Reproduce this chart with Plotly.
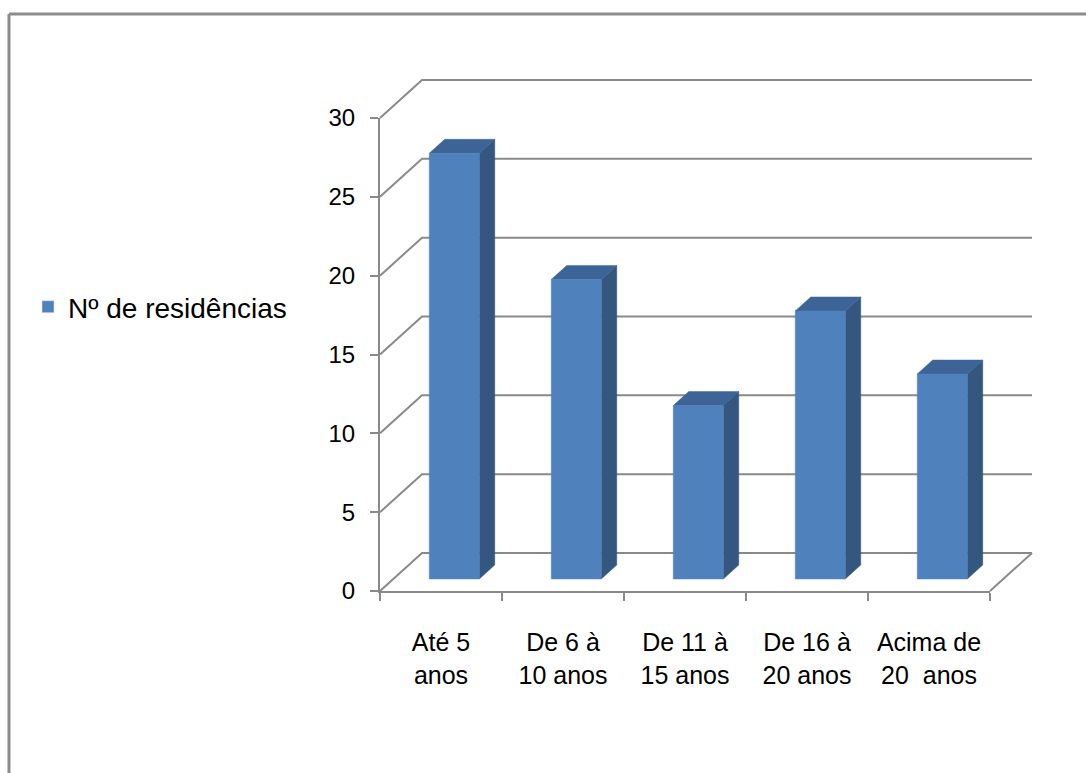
import plotly.graph_objects as go

# ---- data ----
categories = ["Até 5<br>anos", "De 6 à<br>10 anos", "De 11 à<br>15 anos",
              "De 16 à<br>20 anos", "Acima de<br>20  anos"]
values = [27, 19, 11, 17, 13]
series_name = "Nº de residências"
y_ticks = [0, 5, 10, 15, 20, 25, 30]

# ---- style / geometry ----
W, H = 1086, 773
FONT = "Liberation Sans, Arial, sans-serif"
GRID = "#8a8a8a"
C_FRONT, C_SIDE, C_TOP = "#4F81BD", "#34567F", "#3C6496"

# front plane in pixels
px_x0, px_x1 = 380, 990
px_y0, px_ytop = 591, 118
ymax = 30
n = len(categories)
ux = (px_x1 - px_x0) / n
uy = (px_y0 - px_ytop) / ymax
# depth offset (pixels) -> data units
dx = 42 / ux
dy = 38 / uy
f1, f2 = 0.316, 0.684   # bar front/back depth fractions
hw = 0.205              # half bar width (category units)

fig = go.Figure()

# --- walls / gridlines (full-figure drawing axes x2/y2, same scale) ---
gx, gy = [], []
for v in y_ticks:
    gx += [-0.5, -0.5 + dx, n - 0.5 + dx, None]
    gy += [v, v + dy, v + dy, None]
gx += [n - 0.5, n - 0.5 + dx, None]
gy += [0, dy, None]
fig.add_trace(go.Scatter(x=gx, y=gy, mode="lines", xaxis="x2", yaxis="y2",
                         line=dict(color=GRID, width=2), hoverinfo="skip",
                         showlegend=False))

# --- 3D bars ---
for i, v in enumerate(values):
    xl, xr = i - hw, i + hw
    # side face
    fig.add_trace(go.Scatter(
        x=[xr + f1 * dx, xr + f2 * dx, xr + f2 * dx, xr + f1 * dx, xr + f1 * dx],
        y=[f1 * dy, f2 * dy, v + f2 * dy, v + f1 * dy, f1 * dy],
        fill="toself", fillcolor=C_SIDE, mode="lines", line=dict(width=0.5, color=C_SIDE),
        xaxis="x2", yaxis="y2", hoverinfo="skip", showlegend=False))
    # top face
    fig.add_trace(go.Scatter(
        x=[xl + f1 * dx, xr + f1 * dx, xr + f2 * dx, xl + f2 * dx, xl + f1 * dx],
        y=[v + f1 * dy, v + f1 * dy, v + f2 * dy, v + f2 * dy, v + f1 * dy],
        fill="toself", fillcolor=C_TOP, mode="lines", line=dict(width=0.5, color=C_TOP),
        xaxis="x2", yaxis="y2", hoverinfo="skip", showlegend=False))
    # front face
    fig.add_trace(go.Scatter(
        x=[xl + f1 * dx, xr + f1 * dx, xr + f1 * dx, xl + f1 * dx, xl + f1 * dx],
        y=[f1 * dy, f1 * dy, v + f1 * dy, v + f1 * dy, f1 * dy],
        fill="toself", fillcolor=C_FRONT, mode="lines", line=dict(width=0.5, color=C_FRONT),
        xaxis="x2", yaxis="y2", hoverinfo="skip", showlegend=False))

# --- invisible trace to set up category axis; legend entry ---
fig.add_trace(go.Scatter(x=categories, y=values, mode="markers",
                         marker=dict(opacity=0), hoverinfo="skip", showlegend=False))
fig.add_trace(go.Bar(x=[categories[0]], y=[None], name=series_name,
                     marker=dict(color=C_FRONT), showlegend=True))

dom_x = [px_x0 / W, px_x1 / W]
dom_y = [1 - px_y0 / H, 1 - px_ytop / H]
x2_range = [-0.5 - px_x0 / ux, n - 0.5 + (W - px_x1) / ux]
y2_range = [-(H - px_y0) / uy, ymax + px_ytop / uy]

fig.update_layout(
    width=W, height=H, autosize=False,
    margin=dict(l=0, r=0, t=0, b=0, pad=0, autoexpand=False),
    paper_bgcolor="white", plot_bgcolor="rgba(0,0,0,0)",
    font=dict(family=FONT, size=24, color="black"),
    xaxis=dict(domain=dom_x, type="category", categoryarray=categories,
               range=[-0.5, n - 0.5], tickson="boundaries", ticks="outside",
               ticklen=8, tickwidth=2, tickcolor=GRID, showline=True,
               linecolor=GRID, linewidth=2, showgrid=False, zeroline=False,
               anchor="y", fixedrange=True, tickfont=dict(size=25),
               ticklabelstandoff=28, automargin=False),
    yaxis=dict(domain=dom_y, range=[0, ymax], tickvals=y_ticks, ticks="outside",
               ticklen=8, tickwidth=2, tickcolor=GRID, showline=True,
               linecolor=GRID, linewidth=2, showgrid=False, zeroline=False,
               anchor="x", fixedrange=True, ticklabelstandoff=10,
               tickfont=dict(size=24), automargin=False),
    xaxis2=dict(domain=[0, 1], range=x2_range, visible=False, anchor="y2",
                fixedrange=True, automargin=False),
    yaxis2=dict(domain=[0, 1], range=y2_range, visible=False, anchor="x2",
                fixedrange=True, automargin=False),
    legend=dict(x=28 / W, y=1 - 307 / H, xanchor="left", yanchor="middle",
                font=dict(size=28), bgcolor="rgba(0,0,0,0)"),
    showlegend=True,
    shapes=[dict(type="line", xref="paper", yref="paper",
                 x0=9 / W, x1=1.0, y0=1 - 14 / H, y1=1 - 14 / H,
                 line=dict(color="#8c8c8c", width=3)),
            dict(type="line", xref="paper", yref="paper",
                 x0=9 / W, x1=9 / W, y0=0, y1=1 - 14 / H,
                 line=dict(color="#8c8c8c", width=3))],
)

fig.write_html("out.html")
